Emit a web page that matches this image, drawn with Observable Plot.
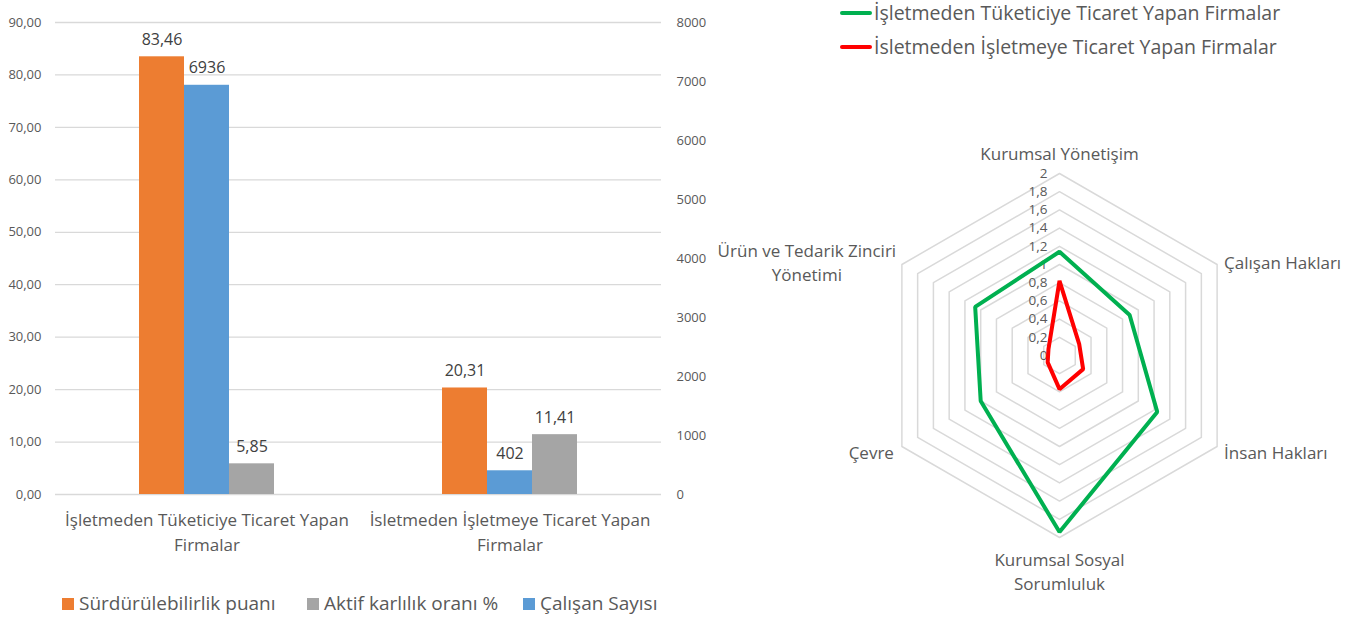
<!DOCTYPE html>
<html>
<head>
<meta charset="utf-8">
<script src="https://cdn.jsdelivr.net/npm/d3@7"></script>
<script src="https://cdn.jsdelivr.net/npm/@observablehq/plot@0.6"></script>
<style>
  html, body { margin: 0; padding: 0; background: #fff; }
  body { width: 1354px; height: 619px; position: relative; overflow: hidden; font-family: "Open Sans", sans-serif; }
  .abs { position: absolute; }
  .legend-item { position: absolute; display: flex; align-items: center; color: #595959; white-space: nowrap; line-height: 1.25; }
  .sq { width: 12px; height: 12px; margin-right: 5px; }
  .ln { width: 32px; height: 4px; border-radius: 2px; margin-right: 2px; }
</style>
</head>
<body>
<div id="bars" class="abs" style="left:0;top:0;"></div>
<div id="radar" class="abs" style="left:700px;top:100px;"></div>
<div id="barLegend"></div>
<div id="radarLegend"></div>
<script>
// ---------- DATA ----------
const groups = ["İşletmeden Tüketiciye Ticaret Yapan Firmalar", "İsletmeden İşletmeye Ticaret Yapan Firmalar"];
const groupLabels = ["İşletmeden Tüketiciye Ticaret Yapan\nFirmalar", "İsletmeden İşletmeye Ticaret Yapan\nFirmalar"];
const barSeries = ["Sürdürülebilirlik puanı", "Çalışan Sayısı", "Aktif karlılık oranı %"];
const legendOrder = ["Sürdürülebilirlik puanı", "Aktif karlılık oranı %", "Çalışan Sayısı"];
const sustainability = [83.46, 20.31];
const employees = [6936, 402];
const profitability = [5.85, 11.41];
const leftTicks = [0, 10, 20, 30, 40, 50, 60, 70, 80, 90];
const rightTicks = [0, 1000, 2000, 3000, 4000, 5000, 6000, 7000, 8000];

const radarAxes = ["Kurumsal Yönetişim", "Çalışan Hakları", "İnsan Hakları", "Kurumsal Sosyal\nSorumluluk", "Çevre", "Ürün ve Tedarik Zinciri\nYönetimi"];
const radarSeries = ["İşletmeden Tüketiciye Ticaret Yapan Firmalar", "İsletmeden İşletmeye Ticaret Yapan Firmalar"];
const b2cScores = [1.14, 0.89, 1.24, 1.94, 1.00, 1.07];
const b2bScores = [0.82, 0.25, 0.30, 0.37, 0.15, 0.14];
const radialTicks = [0, 0.2, 0.4, 0.6, 0.8, 1, 1.2, 1.4, 1.6, 1.8, 2];

// ---------- STYLE ----------
const colors = {"Sürdürülebilirlik puanı": "#ED7D31", "Çalışan Sayısı": "#5B9BD5", "Aktif karlılık oranı %": "#A5A5A5"};
const lineColors = ["#00B050", "#FF0000"];
const FONT = "Open Sans";
const comma = (v, d) => d3.format(`.${d}f`)(v).replace(".", ",");

// ---------- BAR CHART ----------
const leftMax = 90, rightMax = 8000;
const toLeft = v => v * leftMax / rightMax;
const rows = [];
groups.forEach((g, i) => {
  rows.push({group: g, series: barSeries[0], y: sustainability[i], label: comma(sustainability[i], 2)});
  rows.push({group: g, series: barSeries[1], y: toLeft(employees[i]), label: String(employees[i])});
  rows.push({group: g, series: barSeries[2], y: profitability[i], label: comma(profitability[i], 2)});
});

const bars = Plot.plot({
  width: 720, height: 560,
  marginLeft: 55, marginRight: 59, marginTop: 22, marginBottom: 66,
  style: {fontFamily: FONT, background: "transparent", overflow: "visible"},
  fx: {domain: groups, padding: 0, axis: null},
  x: {domain: barSeries, paddingInner: 0, paddingOuter: 1.8, axis: null},
  y: {domain: [0, leftMax], range: [494, 22], axis: null},
  marks: [
    Plot.ruleY(leftTicks, {stroke: "#D9D9D9", strokeWidth: 1.3}),
    Plot.axisY(leftTicks, {anchor: "left", tickSize: 0, tickPadding: 14, tickFormat: d => comma(d, 2), fontSize: 13, color: "#595959", label: null}),
    Plot.axisY(rightTicks.map(toLeft), {anchor: "right", tickSize: 0, tickPadding: 15, tickFormat: d => String(Math.round(d * rightMax / leftMax)), fontSize: 13, color: "#595959", label: null}),
    Plot.barY(rows, {fx: "group", x: "series", y: "y", fill: d => colors[d.series], inset: 0}),
    Plot.text(rows, {fx: "group", x: "series", y: "y", text: "label", dy: -17, fontSize: 16, fill: "#404040"}),
    Plot.text(groups, {fx: d => d, text: d => groupLabels[groups.indexOf(d)], frameAnchor: "bottom", lineAnchor: "top", dy: 14, lineHeight: 1.45, fontSize: 17, fill: "#595959"})
  ]
});
document.getElementById("bars").appendChild(bars);

// bar legend
const bl = document.getElementById("barLegend");
const legPos = [62, 307, 523];
legendOrder.forEach((s, i) => {
  const it = document.createElement("div");
  it.className = "legend-item";
  it.style.left = legPos[i] + "px";
  it.style.top = "592px";
  it.style.fontSize = "19px";
  it.innerHTML = `<span class="sq" style="background:${colors[s]}"></span><span>${s}</span>`;
  bl.appendChild(it);
});

// ---------- RADAR ----------
const N = radarAxes.length;
const ang = i => (90 - 360 / N * i) * Math.PI / 180;
const pt = (r, i) => ({x: r * Math.cos(ang(i)), y: r * Math.sin(ang(i))});
const rings = [];
radialTicks.filter(t => t > 0).forEach(t => {
  for (let i = 0; i < N; i++) rings.push({level: t, ...pt(t, i)});
});
const seriesPts = [];
[b2cScores, b2bScores].forEach((vals, s) => vals.forEach((v, i) => seriesPts.push({s, ...pt(v, i)})));
const rMax = 2;
const labelPts = radarAxes.map((a, i) => ({label: a, ...pt(rMax, i)}));
const lab = (i, opts) => Plot.text([labelPts[i]], {x: "x", y: "y", text: "label", fontSize: 17, fill: "#595959", lineHeight: 1.4, ...opts});

const cx = 359, cy = 255, R = 182;
const radar = Plot.plot({
  width: 654, height: 519,
  margin: 0,
  style: {fontFamily: FONT, background: "transparent", overflow: "visible"},
  x: {domain: [-rMax, rMax], range: [cx - R, cx + R], axis: null},
  y: {domain: [-rMax, rMax], range: [cy + R, cy - R], axis: null},
  marks: [
    Plot.line(rings, {x: "x", y: "y", z: "level", curve: "linear-closed", stroke: "#D9D9D9", strokeWidth: 1.5}),
    Plot.text(radialTicks, {x: 0, y: d => d, text: d => comma(d, d === Math.round(d) ? 0 : 1), textAnchor: "end", dx: -12, fontSize: 13.5, fill: "#595959"}),
    Plot.line(seriesPts, {x: "x", y: "y", z: "s", curve: "linear-closed", stroke: d => lineColors[d.s], strokeWidth: 4, strokeLinejoin: "miter"}),
    lab(0, {dy: -21}),
    lab(1, {textAnchor: "start", dx: 7, dy: -3}),
    lab(2, {textAnchor: "start", dx: 7, dy: 5}),
    lab(3, {lineAnchor: "top", dy: 12}),
    lab(4, {textAnchor: "end", dx: -8, dy: 5}),
    lab(5, {dx: -95, dy: -3})
  ]
});
document.getElementById("radar").appendChild(radar);

// radar legend
const rl = document.getElementById("radarLegend");
radarSeries.forEach((s, i) => {
  const it = document.createElement("div");
  it.className = "legend-item";
  it.style.left = "840px";
  it.style.top = (i === 0 ? 1 : 35) + "px";
  it.style.fontSize = "19.5px";
  it.innerHTML = `<span class="ln" style="background:${lineColors[i]}"></span><span>${s}</span>`;
  rl.appendChild(it);
});
</script>
</body>
</html>
